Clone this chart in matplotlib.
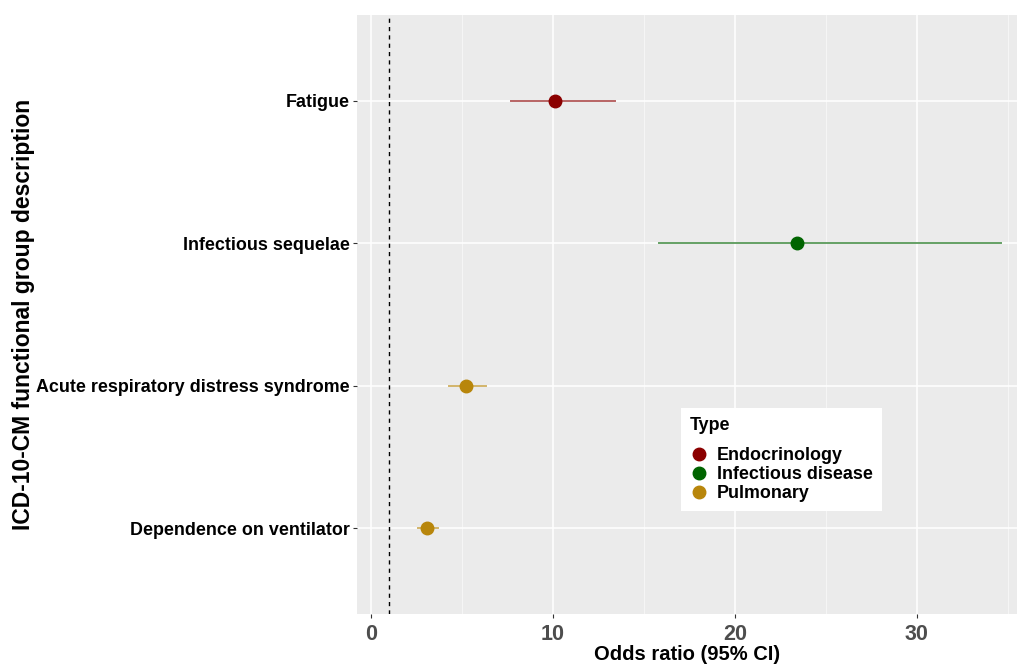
import matplotlib
matplotlib.use("Agg")
import matplotlib.pyplot as plt
from matplotlib.lines import Line2D

plt.rcParams['font.family'] = ['Liberation Sans', 'DejaVu Sans']

# data
categories = ['Dependence on ventilator', 'Acute respiratory distress syndrome',
              'Infectious sequelae', 'Fatigue']
odds_ratio = [3.1, 5.2, 23.4, 10.1]
ci_low = [2.6, 4.3, 15.8, 7.7]
ci_high = [3.7, 6.3, 34.6, 13.4]
types = ['Pulmonary', 'Pulmonary', 'Infectious disease', 'Endocrinology']

type_names = ['Endocrinology', 'Infectious disease', 'Pulmonary']
type_colors = {'Endocrinology': '#8B0000',
               'Infectious disease': '#006400',
               'Pulmonary': '#B8860B'}

fig = plt.figure(figsize=(10.17, 6.64), dpi=100)
ax = fig.add_axes([0.351, 0.0753, 0.649, 0.9021])
ax.set_facecolor('#EBEBEB')

# grid like ggplot
for x in [5, 15, 25, 35]:
    ax.axvline(x, color='#F7F7F7', lw=0.6, zorder=0)
for x in [0, 10, 20, 30]:
    ax.axvline(x, color='white', lw=1.1, zorder=0)
for i in range(len(categories)):
    ax.axhline(i + 1, color='white', lw=1.1, zorder=0)

ax.axvline(1, color='black', ls=(0, (3, 3)), lw=1.0, zorder=1)

for i, cat in enumerate(categories):
    c = type_colors[types[i]]
    ax.plot([ci_low[i], ci_high[i]], [i + 1, i + 1], color=c, alpha=0.6, lw=1.4, zorder=2)
    ax.plot(odds_ratio[i], i + 1, 'o', color=c, ms=9, zorder=3)

ax.set_xlim(-0.77, 35.5)
ax.set_ylim(0.4, 4.6)
ax.set_xticks([0, 10, 20, 30])
ax.set_yticks(range(1, len(categories) + 1))
ax.set_yticklabels(categories)

for lab in ax.get_xticklabels():
    lab.set_fontsize(15.5)
    lab.set_fontweight('bold')
    lab.set_color('#4D4D4D')
for lab in ax.get_yticklabels():
    lab.set_fontsize(12.9)
    lab.set_fontweight('bold')
    lab.set_color('black')

ax.tick_params(axis='both', length=3, color='#333333', width=0.8)
ax.tick_params(axis='x', pad=4)
ax.tick_params(axis='y', pad=2)
for s in ax.spines.values():
    s.set_visible(False)

ax.set_xlabel('Odds ratio (95% CI)', fontsize=14.5, fontweight='bold', labelpad=0)
ax.set_ylabel('ICD-10-CM functional group description', fontsize=16.5, fontweight='bold')
ax.yaxis.set_label_coords(-0.488, 0.5)

handles = [Line2D([0], [0], marker='o', color=type_colors[t], lw=0, ms=9) for t in type_names]
leg = ax.legend(handles, type_names, title='Type\n', loc='lower left',
                bbox_to_anchor=(0.491, 0.172), borderaxespad=0, frameon=True, fancybox=False,
                framealpha=1, prop={'weight': 'bold', 'size': 12.9}, handlelength=1.0,
                handletextpad=0.5, labelspacing=0.1, borderpad=0.5)
leg.get_title().set_fontweight('bold')
leg.get_title().set_fontsize(12.9)
leg.get_title().set_linespacing(0.6)
leg._legend_box.align = 'left'
leg.get_frame().set_edgecolor('white')
leg.get_frame().set_linewidth(0)

fig.savefig('out.png', dpi=100)
